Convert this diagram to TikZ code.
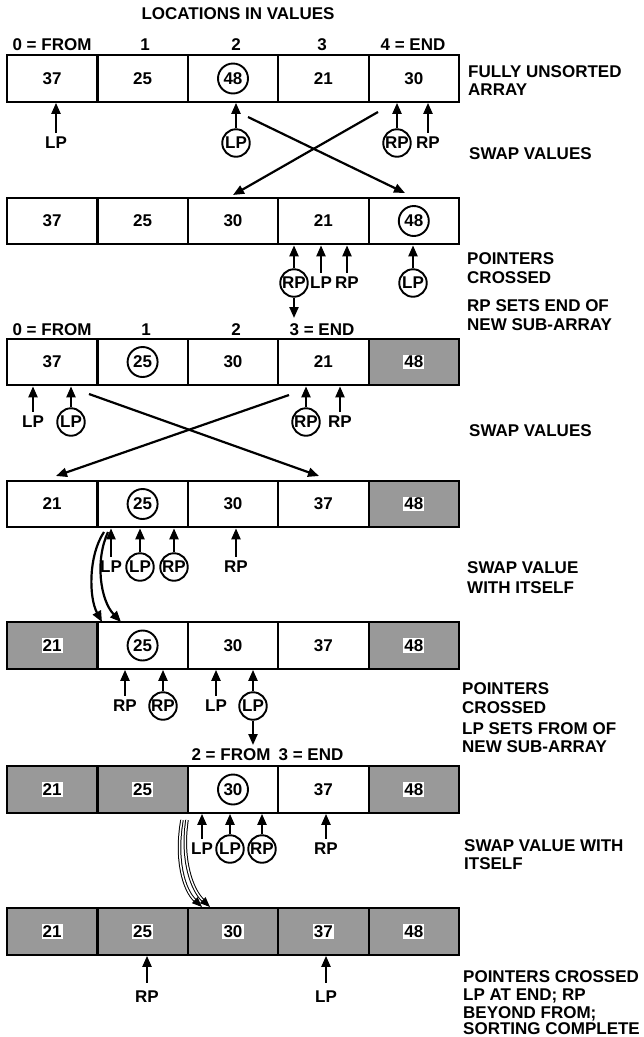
\documentclass[tikz,border=0pt]{standalone}
\usepackage{fontspec}
\setmainfont{Liberation Sans}
\usetikzlibrary{arrows.meta}
\newcommand\labfont{\fontsize{17}{20}\selectfont\bfseries}
\begin{document}
\begin{tikzpicture}[x=1pt,y=-1pt,
  cell/.style={draw, line width=2.2pt, minimum width=90.4pt, minimum height=46.5pt, inner sep=0pt, font=\labfont},
  shcell/.style={cell, fill=black!40},
  wnum/.style={fill=white, inner sep=1.2pt, font=\labfont},
  cnum/.style={circle, draw, line width=1.9pt, minimum size=30pt, inner sep=0pt, font=\labfont},
  plab/.style={inner sep=1pt, font=\labfont},
  cplab/.style={circle, draw, line width=1.9pt, minimum size=27.5pt, inner sep=0pt, font=\labfont},
  ptr/.style={line width=2.2pt, -{Triangle[length=11pt,width=9pt]}},
  pptr/.style={ptr, shorten <=3pt},
  dptr/.style={line width=1pt, double, double distance=1.5pt, -{Triangle[length=10pt,width=8pt]}},
  note/.style={anchor=base west, inner sep=0pt, font=\labfont},
  idx/.style={inner sep=0pt, font=\labfont},
]
\useasboundingbox (0,0) rectangle (644,1037);

% ---------- title and row 1 ----------
\node[idx] (title) at (238,14) {LOCATIONS IN VALUES};
\node[idx] (i10) at (52,45) {0 = FROM};
\node[idx] (i11) at (145,45) {1};
\node[idx] (i12) at (236,45) {2};
\node[idx] (i13) at (322,45) {3};
\node[idx] (i14) at (413,45) {4 = END};

\node[cell] (c10) at (52.2,78.5) {37};
\node[cell] (c11) at (142.6,78.5) {25};
\node[cell] (c12) at (233,78.5) {};
\node[cell] (c13) at (323.4,78.5) {21};
\node[cell] (c14) at (413.8,78.5) {30};
\node[cnum] (n12) at (c12) {48};

\node[note] (t1a) at (468,77) {FULLY UNSORTED};
\node[note] (t1b) at (468,95) {ARRAY};
\node[note] (t1c) at (469,159) {SWAP VALUES};

\node[plab] (p1a) at (56,143) {LP};
\node[cplab] (p1b) at (236,143) {LP};
\node[cplab] (p1c) at (397,143) {RP};
\node[plab] (p1d) at (428,143) {RP};
\draw[pptr] (p1a.north) -- (p1a.north |- c10.south);
\draw[ptr] (p1b.north) -- (p1b.north |- c10.south);
\draw[ptr] (p1c.north) -- (p1c.north |- c10.south);
\draw[pptr] (p1d.north) -- (p1d.north |- c10.south);

\coordinate (x1a) at (248,117);
\coordinate (x1b) at (405,193);
\coordinate (x1c) at (378,112);
\coordinate (x1d) at (233,195);
\draw[ptr] (x1a) -- (x1b);
\draw[ptr] (x1c) -- (x1d);

% ---------- row 2 ----------
\node[cell] (c20) at (52.2,221) {37};
\node[cell] (c21) at (142.6,221) {25};
\node[cell] (c22) at (233,221) {30};
\node[cell] (c23) at (323.4,221) {21};
\node[cell] (c24) at (413.8,221) {};
\node[cnum] (n24) at (c24) {48};

\node[cplab] (p2a) at (294,283) {RP};
\node[plab] (p2b) at (321,283) {LP};
\node[plab] (p2c) at (347,283) {RP};
\node[cplab] (p2d) at (413,283) {LP};
\draw[ptr] (p2a.north) -- (p2a.north |- c20.south);
\draw[pptr] (p2b.north) -- (p2b.north |- c20.south);
\draw[pptr] (p2c.north) -- (p2c.north |- c20.south);
\draw[ptr] (p2d.north) -- (p2d.north |- c20.south);
\coordinate (d2) at (294,318);
\draw[ptr] (p2a.south) -- (d2);

\node[note] (t2a) at (467,264) {POINTERS};
\node[note] (t2b) at (467,283) {CROSSED};
\node[note] (t2c) at (467,311) {RP SETS END OF};
\node[note] (t2d) at (467,330) {NEW SUB-ARRAY};

% ---------- row 3 ----------
\node[idx] (i30) at (52,330) {0 = FROM};
\node[idx] (i31) at (146,330) {1};
\node[idx] (i32) at (236,330) {2};
\node[idx] (i33) at (322,330) {3 = END};

\node[cell] (c30) at (52.2,362) {37};
\node[cell] (c31) at (142.6,362) {};
\node[cell] (c32) at (233,362) {30};
\node[cell] (c33) at (323.4,362) {21};
\node[shcell] (c34) at (413.8,362) {};
\node[cnum] (n31) at (c31) {25};
\node[wnum] (n34) at (c34) {48};

\node[plab] (p3a) at (33,422) {LP};
\node[cplab] (p3b) at (71,422) {LP};
\node[cplab] (p3c) at (306,422) {RP};
\node[plab] (p3d) at (340,422) {RP};
\draw[pptr] (p3a.north) -- (p3a.north |- c30.south);
\draw[ptr] (p3b.north) -- (p3b.north |- c30.south);
\draw[ptr] (p3c.north) -- (p3c.north |- c30.south);
\draw[pptr] (p3d.north) -- (p3d.north |- c30.south);

\coordinate (x3a) at (89,394);
\coordinate (x3b) at (319,476);
\coordinate (x3c) at (289,395);
\coordinate (x3d) at (56,476);
\draw[ptr] (x3a) -- (x3b);
\draw[ptr] (x3c) -- (x3d);

\node[note] (t3a) at (469,436) {SWAP VALUES};

% ---------- row 4 ----------
\node[cell] (c40) at (52.2,504) {21};
\node[cell] (c41) at (142.6,504) {};
\node[cell] (c42) at (233,504) {30};
\node[cell] (c43) at (323.4,504) {37};
\node[shcell] (c44) at (413.8,504) {};
\node[cnum] (n41) at (c41) {25};
\node[wnum] (n44) at (c44) {48};

\node[plab] (p4a) at (111,567) {LP};
\node[cplab] (p4b) at (140,567) {LP};
\node[cplab] (p4c) at (174,567) {RP};
\node[plab] (p4d) at (236,567) {RP};
\draw[pptr] (p4a.north) -- (p4a.north |- c40.south);
\draw[ptr] (p4b.north) -- (p4b.north |- c40.south);
\draw[ptr] (p4c.north) -- (p4c.north |- c40.south);
\draw[pptr] (p4d.north) -- (p4d.north |- c40.south);

\coordinate (s4a) at (104,532);
\coordinate (e4a) at (102,622);
\coordinate (s4b) at (108,532);
\coordinate (e4b) at (121,622);
\draw[ptr] (s4a) .. controls (88,556) and (89,598) .. (e4a);
\draw[ptr] (s4b) .. controls (95,560) and (100,600) .. (e4b);

\node[note] (t4a) at (467,573) {SWAP VALUE};
\node[note] (t4b) at (467,593) {WITH ITSELF};

% ---------- row 5 ----------
\node[shcell] (c50) at (52.2,645.5) {};
\node[cell] (c51) at (142.6,645.5) {};
\node[cell] (c52) at (233,645.5) {30};
\node[cell] (c53) at (323.4,645.5) {37};
\node[shcell] (c54) at (413.8,645.5) {};
\node[wnum] (n50) at (c50) {21};
\node[cnum] (n51) at (c51) {25};
\node[wnum] (n54) at (c54) {48};

\node[plab] (p5a) at (125,706) {RP};
\node[cplab] (p5b) at (163,706) {RP};
\node[plab] (p5c) at (216,706) {LP};
\node[cplab] (p5d) at (253,706) {LP};
\draw[pptr] (p5a.north) -- (p5a.north |- c50.south);
\draw[ptr] (p5b.north) -- (p5b.north |- c50.south);
\draw[pptr] (p5c.north) -- (p5c.north |- c50.south);
\draw[ptr] (p5d.north) -- (p5d.north |- c50.south);
\coordinate (d5) at (253,745);
\draw[ptr] (p5d.south) -- (d5);

\node[note] (t5a) at (462,694) {POINTERS};
\node[note] (t5b) at (462,713) {CROSSED};
\node[note] (t5c) at (462,734) {LP SETS FROM OF};
\node[note] (t5d) at (462,752) {NEW SUB-ARRAY};

% ---------- row 6 ----------
\node[idx] (i62) at (231,755) {2 = FROM};
\node[idx] (i63) at (311,755) {3 = END};

\node[shcell] (c60) at (52.2,789.5) {};
\node[shcell] (c61) at (142.6,789.5) {};
\node[cell] (c62) at (233,789.5) {};
\node[cell] (c63) at (323.4,789.5) {37};
\node[shcell] (c64) at (413.8,789.5) {};
\node[wnum] (n60) at (c60) {21};
\node[wnum] (n61) at (c61) {25};
\node[cnum] (n62) at (c62) {30};
\node[wnum] (n64) at (c64) {48};

\node[plab] (p6a) at (202,849) {LP};
\node[cplab] (p6b) at (230,849) {LP};
\node[cplab] (p6c) at (262,849) {RP};
\node[plab] (p6d) at (326,849) {RP};
\draw[pptr] (p6a.north) -- (p6a.north |- c60.south);
\draw[ptr] (p6b.north) -- (p6b.north |- c60.south);
\draw[ptr] (p6c.north) -- (p6c.north |- c60.south);
\draw[pptr] (p6d.north) -- (p6d.north |- c60.south);

\coordinate (s6a) at (182,820);
\coordinate (e6a) at (202,907);
\coordinate (s6b) at (187,820);
\coordinate (e6b) at (210,907);
\draw[dptr] (s6a) .. controls (175,860) and (184,890) .. (e6a);
\draw[dptr] (s6b) .. controls (181,860) and (192,890) .. (e6b);

\node[note] (t6a) at (464,851) {SWAP VALUE WITH};
\node[note] (t6b) at (464,869) {ITSELF};

% ---------- row 7 ----------
\node[shcell] (c70) at (52.2,931.5) {};
\node[shcell] (c71) at (142.6,931.5) {};
\node[shcell] (c72) at (233,931.5) {};
\node[shcell] (c73) at (323.4,931.5) {};
\node[shcell] (c74) at (413.8,931.5) {};
\node[wnum] (n70) at (c70) {21};
\node[wnum] (n71) at (c71) {25};
\node[wnum] (n72) at (c72) {30};
\node[wnum] (n73) at (c73) {37};
\node[wnum] (n74) at (c74) {48};

\node[plab] (p7a) at (147,997) {RP};
\node[plab] (p7b) at (326,997) {LP};
\draw[ptr, shorten <=7pt] (p7a.north) -- (p7a.north |- c70.south);
\draw[ptr, shorten <=7pt] (p7b.north) -- (p7b.north |- c70.south);

\node[note] (t7a) at (463,982) {POINTERS CROSSED};
\node[note] (t7b) at (463,1000) {LP AT END; RP};
\node[note] (t7c) at (463,1018) {BEYOND FROM;};
\node[note] (t7d) at (463,1034) {SORTING COMPLETE};
\end{tikzpicture}
\end{document}
